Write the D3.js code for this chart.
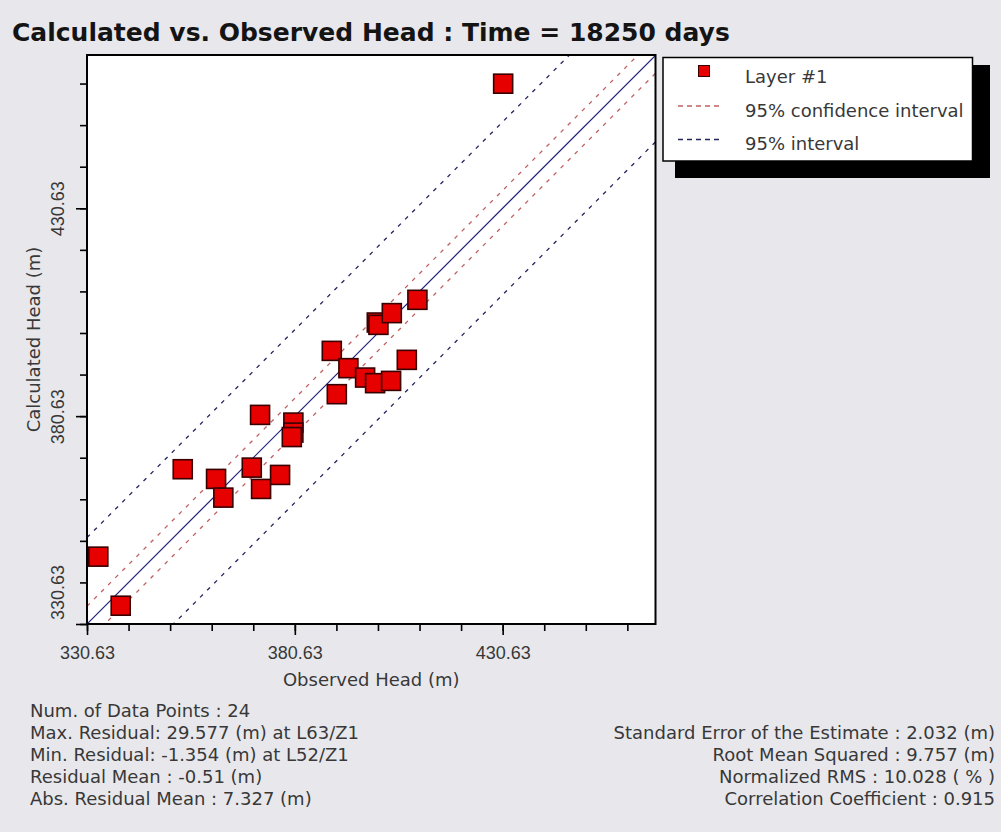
<!DOCTYPE html>
<html><head><meta charset="utf-8">
<script src="https://cdn.jsdelivr.net/npm/d3@7"></script>
<style>
html,body{margin:0;padding:0;background:#e8e8ec;}
svg{display:block;font-family:"DejaVu Sans",Verdana,sans-serif;}
</style></head>
<body>
<svg id="chart" width="1001" height="832"></svg>
<script>
// ---- data ----
const observed = [430.75, 333.35, 338.74, 353.66, 361.68, 363.43, 370.27, 372.51, 377.08, 372.27, 380.28, 380.28,
                  379.90, 389.52, 390.73, 393.52, 397.54, 399.94, 403.79, 407.57, 400.35, 400.74, 403.96, 410.12];
const calculated = [460.60, 346.83, 335.03, 367.86, 365.53, 361.03, 368.25, 363.12, 366.49, 380.93, 379.08, 376.67,
                    375.60, 396.33, 385.91, 392.17, 389.91, 388.56, 389.11, 394.17, 403.15, 402.59, 405.41, 408.61];
const majorTicks = [330.63, 380.63, 430.63];
const minorStep = 10;
const confOffset = 4.3;      // 95% confidence interval half-width (m)
const intervalOffset = 20.8; // 95% interval half-width (m)
const titleText = "Calculated vs. Observed Head : Time = 18250 days";
const xTitle = "Observed Head (m)";
const yTitle = "Calculated Head (m)";
const legendLabels = ["Layer #1", "95% confidence interval", "95% interval"];
const statsLeft = ["Num. of Data Points : 24", "Max. Residual: 29.577 (m) at L63/Z1", "Min. Residual: -1.354 (m) at L52/Z1",
                   "Residual Mean : -0.51 (m)", "Abs. Residual Mean : 7.327 (m)"];
const statsRight = ["Standard Error of the Estimate : 2.032 (m)", "Root Mean Squared : 9.757 (m)",
                    "Normalized RMS : 10.028 ( % )", "Correlation Coefficient : 0.915"];

// ---- layout ----
const svg = d3.select("#chart");
const L = 87, R = 655.5, T = 55, B = 624;
const FS = 18, TXT = "#383838";
const x = d3.scaleLinear().domain([330.63, 467.4]).range([L, R]);
const y = d3.scaleLinear().domain([330.63, 467.5]).range([B, T]);
const minorTicks = d3.range(330.63, 467.4, minorStep);

svg.append("rect").attr("width", 1001).attr("height", 832).attr("fill", "#e8e8ec");

// title
svg.append("text").attr("x", 12).attr("y", 41)
  .attr("font-weight", "bold").attr("font-size", 25).attr("fill", "#141414").text(titleText);

// plot background
svg.append("rect").attr("x", L).attr("y", T).attr("width", R - L).attr("height", B - T).attr("fill", "#fff");

svg.append("clipPath").attr("id", "clip").append("rect")
  .attr("x", L).attr("y", T).attr("width", R - L).attr("height", B - T);
const plot = svg.append("g").attr("clip-path", "url(#clip)");

const dmin = 300, dmax = 500;
function diag(off) { return [[dmin, dmin + off], [dmax, dmax + off]]; }
const line = d3.line().x(d => x(d[0])).y(d => y(d[1]));

[intervalOffset, -intervalOffset].forEach(o => plot.append("path").attr("d", line(diag(o)))
  .attr("stroke", "#25255e").attr("stroke-width", 1.3).attr("stroke-dasharray", "4,6").attr("fill", "none"));
[confOffset, -confOffset].forEach(o => plot.append("path").attr("d", line(diag(o)))
  .attr("stroke", "#c06060").attr("stroke-width", 1.3).attr("stroke-dasharray", "4,6").attr("fill", "none"));
plot.append("path").attr("d", line(diag(0))).attr("stroke", "#1e1e78").attr("stroke-width", 1.2).attr("fill", "none");

// points
const pts = observed.map((o, i) => ({o, c: calculated[i]}));
const S = 19;
plot.selectAll("rect.pt").data(pts).enter().append("rect").attr("class", "pt")
  .attr("x", d => x(d.o) - S / 2).attr("y", d => y(d.c) - S / 2)
  .attr("width", S).attr("height", S)
  .attr("fill", "#e60000").attr("stroke", "#3a0000").attr("stroke-width", 1.6);

// box
svg.append("rect").attr("x", L).attr("y", T).attr("width", R - L).attr("height", B - T)
  .attr("fill", "none").attr("stroke", "#000").attr("stroke-width", 2);

// axes
const gxMinor = svg.append("g").attr("transform", `translate(0,${B})`)
  .call(d3.axisBottom(x).tickValues(minorTicks).tickSize(7).tickFormat(""));
const gxMajor = svg.append("g").attr("transform", `translate(0,${B})`)
  .call(d3.axisBottom(x).tickValues(majorTicks).tickSize(11).tickFormat(d => d.toFixed(2)));
const gyMinor = svg.append("g").attr("transform", `translate(${L},0)`)
  .call(d3.axisLeft(y).tickValues(minorTicks).tickSize(7).tickFormat(""));
const gyMajor = svg.append("g").attr("transform", `translate(${L},0)`)
  .call(d3.axisLeft(y).tickValues(majorTicks).tickSize(11).tickFormat(""));
[gxMinor, gxMajor, gyMinor, gyMajor].forEach(g => {
  g.select(".domain").remove();
  g.selectAll(".tick line").attr("stroke", "#000").attr("stroke-width", 1.6);
});
gxMajor.selectAll(".tick text").attr("font-size", FS).attr("fill", TXT)
  .attr("font-family", "inherit").attr("y", 22).attr("dy", "0.71em");

// y tick labels (rotated); the lowest is kept inside the plot height
gyMajor.selectAll(".tick").each(function(d) {
  const g = d3.select(this);
  const yy = Math.min(0, (B - 32) - y(d));
  g.append("text").attr("transform", `translate(-23.5,${yy}) rotate(-90)`)
    .attr("text-anchor", "middle").attr("font-size", FS).attr("fill", TXT)
    .attr("font-family", "inherit").text(d.toFixed(2));
});

// axis titles
svg.append("text").attr("x", (L + R) / 2).attr("y", 686).attr("text-anchor", "middle")
  .attr("font-size", FS).attr("fill", TXT).text(xTitle);
svg.append("text").attr("transform", `translate(40,${(T + B) / 2}) rotate(-90)`).attr("text-anchor", "middle")
  .attr("font-size", FS).attr("fill", TXT).text(yTitle);

// legend
svg.append("rect").attr("x", 675).attr("y", 65).attr("width", 315).attr("height", 113).attr("fill", "#000");
svg.append("rect").attr("x", 663).attr("y", 57.5).attr("width", 309.5).attr("height", 103.5)
  .attr("fill", "#fff").attr("stroke", "#000").attr("stroke-width", 1.5);
const lg = svg.append("g");
lg.append("rect").attr("x", 698.5).attr("y", 65.5).attr("width", 11).attr("height", 11)
  .attr("fill", "#e60000").attr("stroke", "#3a0000").attr("stroke-width", 1);
lg.append("line").attr("x1", 678).attr("x2", 722).attr("y1", 106).attr("y2", 106)
  .attr("stroke", "#c06060").attr("stroke-width", 1.3).attr("stroke-dasharray", "5,4");
lg.append("line").attr("x1", 678).attr("x2", 722).attr("y1", 139.5).attr("y2", 139.5)
  .attr("stroke", "#25255e").attr("stroke-width", 1.3).attr("stroke-dasharray", "5,4");
lg.selectAll("text").data(legendLabels).enter().append("text")
  .attr("x", 745).attr("y", (d, i) => 83 + i * 33.5).attr("font-size", FS).attr("fill", TXT).text(d => d);

// statistics
svg.selectAll("text.sl").data(statsLeft).enter().append("text").attr("class", "sl")
  .attr("x", 30).attr("y", (d, i) => 717 + i * 22).attr("font-size", FS).attr("fill", TXT).text(d => d);
svg.selectAll("text.sr").data(statsRight).enter().append("text").attr("class", "sr")
  .attr("x", 995).attr("y", (d, i) => 739 + i * 22).attr("text-anchor", "end")
  .attr("font-size", FS).attr("fill", TXT).text(d => d);
</script>
</body></html>
